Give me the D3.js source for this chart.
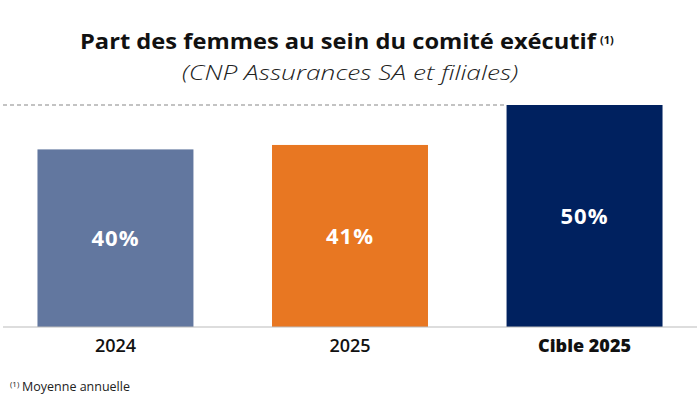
<!DOCTYPE html>
<html>
<head>
<meta charset="utf-8">
<script src="https://cdn.jsdelivr.net/npm/d3@7.9.0/dist/d3.min.js"></script>
<style>
  body { margin: 0; background: #fff; }
  svg { display: block; font-family: "Open Sans", Lato, sans-serif; }
</style>
</head>
<body>
<svg id="chart" width="700" height="410"></svg>
<script>
const categories = ['2024', '2025', 'Cible 2025'];
const values = [40, 41, 50];
const valueLabels = ['40%', '41%', '50%'];
const barColors = ['#62779f', '#e87722', '#00215f'];

const svg = d3.select('#chart');
const baseline = 327;
const plotTop = 105;

let x = d3.scaleBand()
    .domain(categories)
    .range([3, 697])
    .paddingInner(0.335)
    .paddingOuter(0.147);

let y = d3.scaleLinear()
    .domain([0, 50])
    .range([baseline, plotTop]);

// title
svg.append('text')
    .attr('x', 80)
    .attr('y', 49)
    .attr('font-size', 21.5)
    .attr('font-weight', 700)
    .attr('fill', '#111')
    .attr('textLength', 516)
    .attr('lengthAdjust', 'spacingAndGlyphs')
    .text('Part des femmes au sein du comité exécutif');
svg.append('text')
    .attr('x', 600)
    .attr('y', 44)
    .attr('font-size', 11)
    .attr('font-weight', 700)
    .attr('fill', '#111')
    .text('(1)');

svg.append('text')
    .attr('x', 182)
    .attr('y', 80)
    .attr('font-size', 20)
    .attr('font-style', 'italic')
    .attr('font-weight', 300)
    .attr('fill', '#222')
    .attr('textLength', 336)
    .attr('lengthAdjust', 'spacingAndGlyphs')
    .text('(CNP Assurances SA et filiales)');

// target dashed line
svg.append('line')
    .attr('x1', 3)
    .attr('x2', x('Cible 2025'))
    .attr('y1', y(50))
    .attr('y2', y(50))
    .attr('stroke', '#888')
    .attr('stroke-width', 1.2)
    .attr('stroke-dasharray', '4,3');

svg.selectAll('rect.bar')
    .data(values)
    .join('rect')
    .attr('class', 'bar')
    .attr('x', (d, i) => x(categories[i]))
    .attr('y', d => y(d))
    .attr('width', x.bandwidth())
    .attr('height', d => y(0) - y(d))
    .attr('fill', (d, i) => barColors[i]);

svg.selectAll('text.val')
    .data(values)
    .join('text')
    .attr('class', 'val')
    .attr('x', (d, i) => x(categories[i]) + x.bandwidth() / 2)
    .attr('y', d => (y(d) + y(0)) / 2 + 8)
    .attr('text-anchor', 'middle')
    .attr('font-size', 22)
    .attr('font-weight', 700)
    .attr('letter-spacing', 1)
    .attr('fill', '#fff')
    .text((d, i) => valueLabels[i]);

// axis
svg.append('line')
    .attr('x1', 3)
    .attr('x2', 697)
    .attr('y1', baseline)
    .attr('y2', baseline)
    .attr('stroke', '#bbb')
    .attr('stroke-width', 1.2);

svg.selectAll('text.cat')
    .data(categories)
    .join('text')
    .attr('class', 'cat')
    .attr('x', d => x(d) + x.bandwidth() / 2)
    .attr('y', 352)
    .attr('text-anchor', 'middle')
    .attr('font-size', 18)
    .attr('font-weight', (d, i) => i === 2 ? 800 : 600)
    .attr('fill', '#111')
    .text(d => d);

// footnote
svg.append('text')
    .attr('x', 10)
    .attr('y', 387)
    .attr('font-size', 8)
    .attr('fill', '#222')
    .text('(1)');
svg.append('text')
    .attr('x', 22)
    .attr('y', 391)
    .attr('font-size', 12.5)
    .attr('fill', '#222')
    .text('Moyenne annuelle');
</script>
</body>
</html>
